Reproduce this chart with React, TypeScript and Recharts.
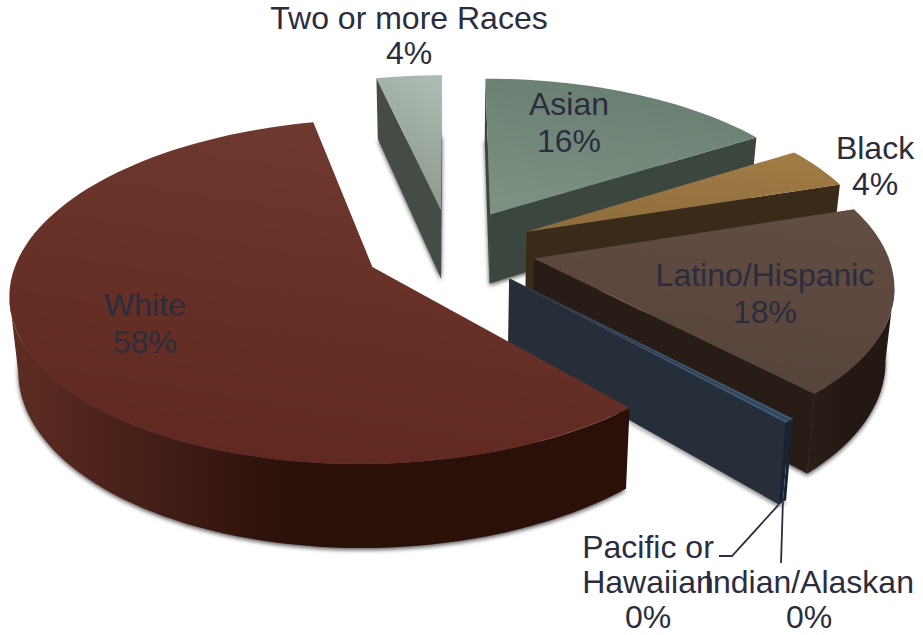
import React from 'react';
import { PieChart, Pie } from 'recharts';

// clockwise from 12 o'clock, draw order is also the back-to-front order
const categories = ['Asian', 'Black', 'Latino/Hispanic', 'Indian/Alaskan', 'Pacific or Hawaiian', 'White', 'Two or more Races'];
const shares = [16, 4, 18, 0.2, 0.2, 58.1, 3.5];

const topColors = [
  ['#677d6f', '#7c9182'],
  ['#a07c45', '#8f6d3c'],
  ['#624d42', '#55423a'],
  ['#3d566f', '#3d566f'],
  ['#3d566f', '#3d566f'],
  ['#6f3a2f', '#602820'],
  ['#adbab1', '#89958b'],
];
const faceColors = ['#3b463f', '#3a2a19', '#281c16', '#252e39', '#252e39', '#2d120c', '#454c46'];
const wallColors = [
  ['#46524a', '#3b463f'],
  ['#3f2e1b', '#3a2a19'],
  ['#2a1e18', '#231813'],
  ['#172233', '#172233'],
  ['#172233', '#172233'],
  ['#5e2d23', '#2b100a'],
  ['#454c46', '#454c46'],
];

// label lines: centre x, first baseline
const labelLines = [['Asian'], ['Black'], ['Latino/Hispanic'], ['Indian/Alaskan'], ['Pacific or', 'Hawaiian'], ['White'], ['Two or more Races']];
const labelSpots = [
  [569, 115],
  [875, 159],
  [765, 286],
  [809, 593],
  [648, 558],
  [145, 316],
  [409, 29],
];
const labelLeading = [37, 36, 37, 35, 35, 37, 35];
const leaderEnds = [
  null,
  null,
  null,
  [[781, 563]],
  [[732, 556], [719, 556]],
  null,
  null,
];

const CX = 450;
const CY = 248.5;
const RADIUS = 352;
const SQUASH = 0.465;
const PERSPECTIVE = 0.14;
const EXPLODE = 0.244;
const DEPTH = 71;
const BASE_SHRINK = 0.98;
const TEXT_COLOR = '#2b2d3f';
const RAD = Math.PI / 180;

const project = (wx: number, wy: number, cx: number, cy: number, r: number) => {
  const w = 1 + PERSPECTIVE * wy;
  return {
    x: cx + (r * wx) / w,
    y: cy - (r * SQUASH * wy) / w,
    bx: cx + ((r * wx) / w) * BASE_SHRINK,
    by: cy - (r * SQUASH * wy) / w + DEPTH / w,
  };
};

const toPath = (pts: number[][]) => 'M' + pts.map((p) => p[0].toFixed(1) + ',' + p[1].toFixed(1)).join('L') + 'Z';

const sliceCorners = (props: any) => {
  const { cx, cy, outerRadius, startAngle, endAngle, midAngle } = props;
  const ox = EXPLODE * Math.cos(midAngle * RAD);
  const oy = EXPLODE * Math.sin(midAngle * RAD);
  const apex = project(ox, oy, cx, cy, outerRadius);
  const steps = Math.max(2, Math.ceil(Math.abs(endAngle - startAngle) / 2));
  const arc = [];
  for (let i = 0; i <= steps; i++) {
    const a = (startAngle + ((endAngle - startAngle) * i) / steps) * RAD;
    arc.push(project(ox + Math.cos(a), oy + Math.sin(a), cx, cy, outerRadius));
  }
  return { apex, arc };
};

const faces = (from: any, to: any) => (to.x - from.x < 0 ? true : false);

const Slice3D = (props: any) => {
  const { apex, arc } = sliceCorners(props);
  const idx = categories.indexOf(props.payload?.name ?? props.name);
  const last = arc[arc.length - 1];

  const topPath = toPath([[apex.x, apex.y], ...arc.map((p) => [p.x, p.y])]);
  const basePath = toPath([[apex.bx, apex.by], ...arc.map((p) => [p.bx, p.by])]);

  const walls = [];
  let run: any[] = [];
  const flush = () => {
    if (run.length > 1) {
      const back = [...run].reverse();
      walls.push(toPath([...run.map((p) => [p.x, p.y]), ...back.map((p) => [p.bx, p.by])]));
    }
    run = [];
  };
  for (let i = 0; i < arc.length - 1; i++) {
    if (faces(arc[i], arc[i + 1])) {
      if (!run.length) run.push(arc[i]);
      run.push(arc[i + 1]);
    } else flush();
  }
  flush();

  const cuts = [];
  if (faces(apex, arc[0])) cuts.push(toPath([[apex.x, apex.y], [arc[0].x, arc[0].y], [arc[0].bx, arc[0].by], [apex.bx, apex.by]]));
  if (faces(last, apex)) cuts.push(toPath([[last.x, last.y], [apex.x, apex.y], [apex.bx, apex.by], [last.bx, last.by]]));

  return (
    <g>
      <defs>
        <filter id={`soft-${idx}`} x="-10%" y="-10%" width="120%" height="120%">
          <feGaussianBlur stdDeviation="2.2" />
        </filter>
        <linearGradient id={`top-${idx}`} x1="0.7" y1="0" x2="0.4" y2="1">
          <stop offset="0%" stopColor={topColors[idx][0]} />
          <stop offset="100%" stopColor={topColors[idx][1]} />
        </linearGradient>
        <linearGradient id={`wall-${idx}`} x1="0" y1="0" x2="1" y2="0">
          <stop offset="0%" stopColor={wallColors[idx][0]} />
          <stop offset="45%" stopColor={wallColors[idx][1]} />
          <stop offset="100%" stopColor={wallColors[idx][1]} />
        </linearGradient>
      </defs>
      <path d={basePath} fill="#000" fillOpacity={0.65} filter={`url(#soft-${idx})`} transform="translate(0,2)" />
      {cuts.map((d, i) => (
        <path key={i} d={d} fill={faceColors[idx]} />
      ))}
      {walls.map((d, i) => (
        <path key={i} d={d} fill={`url(#wall-${idx})`} />
      ))}
      <path d={topPath} fill={`url(#top-${idx})`} />
    </g>
  );
};

const renderLabel = (props: any) => {
  const idx = props.index;
  const [x, y] = labelSpots[idx];
  const lines = [...labelLines[idx], Math.round(shares[idx]) + '%'];
  const ends = leaderEnds[idx];
  let leader = null;
  if (ends) {
    const { arc } = sliceCorners(props);
    const tip = arc[arc.length - 1];
    const pts = [[tip.bx, tip.by], ...ends];
    leader = <polyline points={pts.map((p) => p.join(',')).join(' ')} fill="none" stroke={TEXT_COLOR} strokeWidth={1.8} />;
  }
  return (
    <g key={idx}>
      {leader}
      <text textAnchor="middle" fontFamily="'Liberation Sans', Arial, sans-serif" fontSize={32} fill={TEXT_COLOR}>
        {lines.map((t, i) => (
          <tspan key={i} x={x} y={y + i * labelLeading[idx]}>
            {t}
          </tspan>
        ))}
      </text>
    </g>
  );
};

const data = categories.map((name, i) => ({ name, value: shares[i] }));

export default function App() {
  return (
    <div style={{ position: 'absolute', left: 0, top: 0, width: 923, height: 635 }}>
      <PieChart width={923} height={635} margin={{ top: 0, right: 0, bottom: 0, left: 0 }}>
        <Pie
          data={data}
          dataKey="value"
          nameKey="name"
          cx={CX}
          cy={CY}
          outerRadius={RADIUS}
          startAngle={90}
          endAngle={-270}
          stroke="none"
          isAnimationActive={false}
          shape={Slice3D}
          label={renderLabel}
          labelLine={false}
          rootTabIndex={-1}
        />
      </PieChart>
    </div>
  );
}
